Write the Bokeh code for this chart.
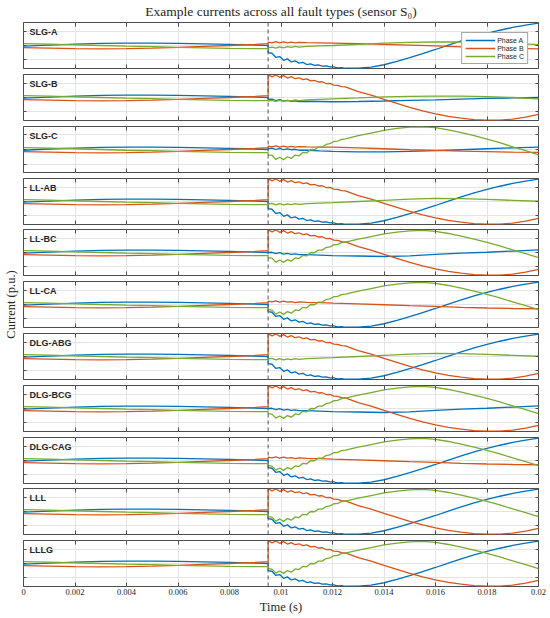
import math
from bokeh.plotting import figure
from bokeh.models import FixedTicker, LinearAxis, Range1d, Span, Label, Legend, LegendItem
from bokeh.layouts import column, row
from bokeh.embed import file_html
from bokeh.resources import INLINE

# ---------------- data ----------------
title_text = "Example currents across all fault types (sensor S\u2080)"
x_label = "Time (s)"
y_label = "Current (p.u.)"
fault_types = ["SLG-A", "SLG-B", "SLG-C", "LL-AB", "LL-BC", "LL-CA",
               "DLG-ABG", "DLG-BCG", "DLG-CAG", "LLL", "LLLG"]
phase_names = ["Phase A", "Phase B", "Phase C"]
phase_colors = ["#0072BD", "#D95319", "#77AC30"]
fault_time = 0.0095

x_ticks = [0.0, 0.002, 0.004, 0.006, 0.008, 0.01, 0.012, 0.014, 0.016, 0.018, 0.02]
x_tick_labels = ["0", "0.002", "0.004", "0.006", "0.008", "0.01",
                 "0.012", "0.014", "0.016", "0.018", "0.02"]
y_ticks = [-0.6, 0.0, 0.6]

# pre-fault (normal operation)
t_pre = [0.0, 0.001, 0.002, 0.003, 0.004, 0.005, 0.006, 0.007, 0.008, 0.009, 0.0095]
pre_A = [-0.03, 0.02, 0.06, 0.09, 0.10, 0.10, 0.09, 0.07, 0.05, 0.02, 0.00]
pre_B = [-0.09, -0.11, -0.13, -0.14, -0.13, -0.11, -0.08, -0.04, 0.00, 0.05, 0.08]
pre_C = [0.08, 0.06, 0.03, 0.00, -0.03, -0.05, -0.08, -0.10, -0.12, -0.13, -0.13]

# faulted phases after inception
t_fault = [0.0095, 0.00965, 0.0098, 0.00995, 0.0101, 0.01025, 0.0104, 0.01055, 0.0107,
           0.01085, 0.0110, 0.01115, 0.0113, 0.01145, 0.0116, 0.01175, 0.0119, 0.01205,
           0.0122, 0.01235, 0.0125,
           0.0130, 0.0135, 0.0140, 0.0145, 0.0150, 0.0155, 0.0160, 0.0165, 0.0170,
           0.0175, 0.0180, 0.0185, 0.0190, 0.0195, 0.0200]
fault_A = [-0.30, -0.33, -0.51, -0.47, -0.63, -0.57, -0.70, -0.65, -0.75,
           -0.72, -0.81, -0.78, -0.85, -0.83, -0.88, -0.87, -0.91, -0.91,
           -0.95, -0.94, -0.97,
           -0.96, -0.92, -0.82, -0.68, -0.52, -0.35, -0.17, 0.02, 0.20,
           0.37, 0.52, 0.65, 0.77, 0.87, 0.95]
fault_B = [0.97, 0.88, 0.96, 0.86, 0.93, 0.83, 0.89, 0.80, 0.84,
           0.76, 0.79, 0.71, 0.73, 0.66, 0.67, 0.595, 0.60, 0.53,
           0.52, 0.46, 0.45,
           0.25, 0.10, -0.08, -0.25, -0.42, -0.57, -0.70, -0.80, -0.88,
           -0.94, -0.97, -0.96, -0.92, -0.84, -0.72]
fault_C = [-0.22, -0.24, -0.41, -0.32, -0.42, -0.30, -0.37, -0.23, -0.26,
           -0.12, -0.14, 0.00, -0.01, 0.10, 0.10, 0.21, 0.24, 0.33,
           0.35, 0.42, 0.44,
           0.57, 0.68, 0.79, 0.87, 0.92, 0.94, 0.90, 0.81, 0.70,
           0.57, 0.43, 0.28, 0.11, -0.05, -0.22]

# healthy phases after inception
t_healthy = [0.0095, 0.00965, 0.0098, 0.00995, 0.0101, 0.01025, 0.0104, 0.01055, 0.0107,
             0.0110, 0.0115, 0.0120, 0.0130, 0.0140, 0.0150, 0.0160, 0.0170, 0.0180,
             0.0190, 0.0200]
slga_B = [0.14, 0.11, 0.16, 0.11, 0.15, 0.11, 0.14, 0.11, 0.13,
          0.12, 0.11, 0.10, 0.08, 0.05, 0.02, -0.02, -0.06, -0.09, -0.12, -0.14]
slga_C = [-0.10, -0.07, -0.11, -0.06, -0.10, -0.05, -0.08, -0.04, -0.07,
          -0.04, -0.02, 0.00, 0.05, 0.10, 0.13, 0.15, 0.15, 0.13, 0.09, 0.04]
slgb_A = [-0.08, -0.07, -0.13, -0.09, -0.15, -0.12, -0.16, -0.14, -0.17,
          -0.16, -0.17, -0.18, -0.17, -0.15, -0.12, -0.10, -0.07, -0.04, -0.02, 0.00]
slgb_C = [-0.15, -0.12, -0.17, -0.12, -0.16, -0.12, -0.14, -0.10, -0.13,
          -0.10, -0.08, -0.06, -0.02, 0.03, 0.05, 0.06, 0.06, 0.04, 0.00, -0.06]
slgc_A = [0.04, 0.06, 0.00, 0.05, -0.01, 0.03, -0.01, 0.01, -0.03,
          -0.03, -0.06, -0.08, -0.10, -0.10, -0.08, -0.05, -0.01, 0.03, 0.07, 0.10]
slgc_B = [0.14, 0.11, 0.15, 0.10, 0.14, 0.10, 0.13, 0.10, 0.12,
          0.11, 0.10, 0.10, 0.07, 0.03, -0.01, -0.04, -0.07, -0.09, -0.11, -0.12]
ab_C = [-0.10, -0.08, -0.14, -0.09, -0.14, -0.10, -0.13, -0.09, -0.12,
        -0.09, -0.07, -0.05, 0.00, 0.05, 0.10, 0.13, 0.12, 0.09, 0.05, 0.01]
bc_A = [0.00, 0.01, -0.05, -0.01, -0.07, -0.04, -0.08, -0.06, -0.09,
        -0.09, -0.11, -0.13, -0.15, -0.17, -0.14, -0.08, -0.03, 0.01, 0.06, 0.11]
ca_B = [0.14, 0.11, 0.15, 0.10, 0.14, 0.10, 0.12, 0.08, 0.11,
        0.09, 0.08, 0.06, 0.03, -0.01, -0.05, -0.08, -0.12, -0.15, -0.17, -0.18]

FA = (t_fault, fault_A)
FB = (t_fault, fault_B)
FC = (t_fault, fault_C)
panel_post = {
    "SLG-A": [FA, (t_healthy, slga_B), (t_healthy, slga_C)],
    "SLG-B": [(t_healthy, slgb_A), FB, (t_healthy, slgb_C)],
    "SLG-C": [(t_healthy, slgc_A), (t_healthy, slgc_B), FC],
    "LL-AB": [FA, FB, (t_healthy, ab_C)],
    "LL-BC": [(t_healthy, bc_A), FB, FC],
    "LL-CA": [FA, (t_healthy, ca_B), FC],
    "DLG-ABG": [FA, FB, (t_healthy, ab_C)],
    "DLG-BCG": [(t_healthy, bc_A), FB, FC],
    "DLG-CAG": [FA, (t_healthy, ca_B), FC],
    "LLL": [FA, FB, FC],
    "LLLG": [FA, FB, FC],
}
pre_series = [pre_A, pre_B, pre_C]

# ---------------- style ----------------
SERIF = "Liberation Serif"
SANS = "Liberation Sans"
AX_COLOR = "#4d4d4d"
GRID_COLOR = "#e4e4e4"
TEXT_COLOR = "#262626"
FRAME_W, FRAME_H = 515, 46
YLAB_W = 20
BORDER_L = 3
BORDER_R = 12
gaps = [6, 6, 6, 5, 6, 6, 6, 6, 5, 6]
LAST_BOTTOM = 30
TITLE_H = 21


def style_axis(ax, ticks, tick_len, labels=False):
    ax.ticker = FixedTicker(ticks=ticks)
    ax.major_tick_in = tick_len
    ax.major_tick_out = 0
    ax.minor_tick_line_color = None
    ax.axis_line_color = None
    ax.major_tick_line_color = AX_COLOR
    ax.major_tick_line_width = 1
    if labels:
        ax.major_label_overrides = dict(zip(x_ticks, x_tick_labels))
        ax.major_label_text_font = SERIF
        ax.major_label_text_font_size = "8.5px"
        ax.major_label_text_color = TEXT_COLOR
        ax.major_label_standoff = 2
        ax.axis_label = x_label
        ax.axis_label_text_font = SERIF
        ax.axis_label_text_font_size = "12.5px"
        ax.axis_label_text_font_style = "normal"
        ax.axis_label_text_color = TEXT_COLOR
        ax.axis_label_standoff = 2
    else:
        ax.major_label_text_font_size = "0px"
        ax.major_label_text_color = None
        ax.major_label_standoff = 0


xr = Range1d(0, 0.02)
figs = []
n = len(fault_types)
for i, name in enumerate(fault_types):
    last = i == n - 1
    post = panel_post[name]
    xs = [t_pre + tp for tp, _ in post]
    ys = [pre + yp for pre, (_, yp) in zip(pre_series, post)]
    M = max(abs(v) for y in ys for v in y) * 1.01
    p = figure(frame_width=FRAME_W, frame_height=FRAME_H, x_range=xr,
               y_range=Range1d(-M, M), toolbar_location=None, output_backend="svg",
               min_border_left=BORDER_L, min_border_right=BORDER_R,
               min_border_top=1,
               min_border_bottom=LAST_BOTTOM if last else gaps[i] - 1)
    p.outline_line_color = AX_COLOR
    p.outline_line_width = 1
    p.background_fill_color = "white"
    p.xgrid.grid_line_color = GRID_COLOR
    p.ygrid.grid_line_color = GRID_COLOR
    style_axis(p.xaxis[0], x_ticks, 4, labels=last)
    style_axis(p.yaxis[0], y_ticks, 3)
    top_ax = LinearAxis()
    style_axis(top_ax, x_ticks, 4)
    p.add_layout(top_ax, "above")
    right_ax = LinearAxis()
    style_axis(right_ax, y_ticks, 3)
    p.add_layout(right_ax, "right")

    rs = []
    for x, y, c in zip(xs, ys, phase_colors):
        rs.append(p.line(x, y, line_color=c, line_width=1.3))
    p.add_layout(Span(location=fault_time, dimension="height", line_color="#555555",
                      line_dash="4 3", line_width=1))
    p.add_layout(Label(x=0, y=M, x_offset=6, y_offset=-4, text=name,
                       text_baseline="top", text_align="left",
                       text_font=SANS, text_font_style="bold",
                       text_font_size="9px", text_color=TEXT_COLOR))
    if i == 0:
        legend = Legend(items=[LegendItem(label=nm, renderers=[r])
                               for nm, r in zip(phase_names, rs)],
                        location="top_right")
        legend.label_text_font = SANS
        legend.label_text_font_size = "7px"
        legend.label_text_color = TEXT_COLOR
        legend.glyph_width = 30
        legend.glyph_height = 8
        legend.label_height = 8
        legend.label_standoff = 2
        legend.spacing = 0
        legend.padding = 3
        legend.margin = 10
        legend.border_line_color = AX_COLOR
        legend.border_line_width = 1
        legend.background_fill_alpha = 1.0
        p.add_layout(legend)
    figs.append(p)

stack_h = sum(FRAME_H + g for g in gaps) + 1 + FRAME_H + LAST_BOTTOM
yf = figure(width=YLAB_W, height=stack_h, x_range=Range1d(0, 1), y_range=Range1d(0, stack_h),
            x_axis_type=None, y_axis_type=None, toolbar_location=None,
            output_backend="svg", min_border=0, outline_line_color=None)
frames_span = sum(FRAME_H + g for g in gaps) + FRAME_H
yf.add_layout(Label(x=0.5, y=stack_h - 1 - frames_span / 2, text=y_label, angle=math.pi / 2,
                    text_align="center", text_baseline="middle", text_font=SERIF,
                    text_font_size="12.5px", text_color=TEXT_COLOR))

total_w = YLAB_W + BORDER_L + FRAME_W + BORDER_R
tf = figure(width=total_w, height=TITLE_H, x_range=Range1d(0, total_w),
            y_range=Range1d(0, TITLE_H), x_axis_type=None, y_axis_type=None,
            toolbar_location=None, output_backend="svg", min_border=0,
            outline_line_color=None)
tf.add_layout(Label(x=YLAB_W + BORDER_L + FRAME_W / 2, y=TITLE_H / 2, text=title_text,
                    text_align="center", text_baseline="middle", text_font=SERIF,
                    text_font_size="13.5px", text_color=TEXT_COLOR))

layout = column(tf, row(yf, column(*figs)))
open("out.html", "w").write(file_html(layout, INLINE))
